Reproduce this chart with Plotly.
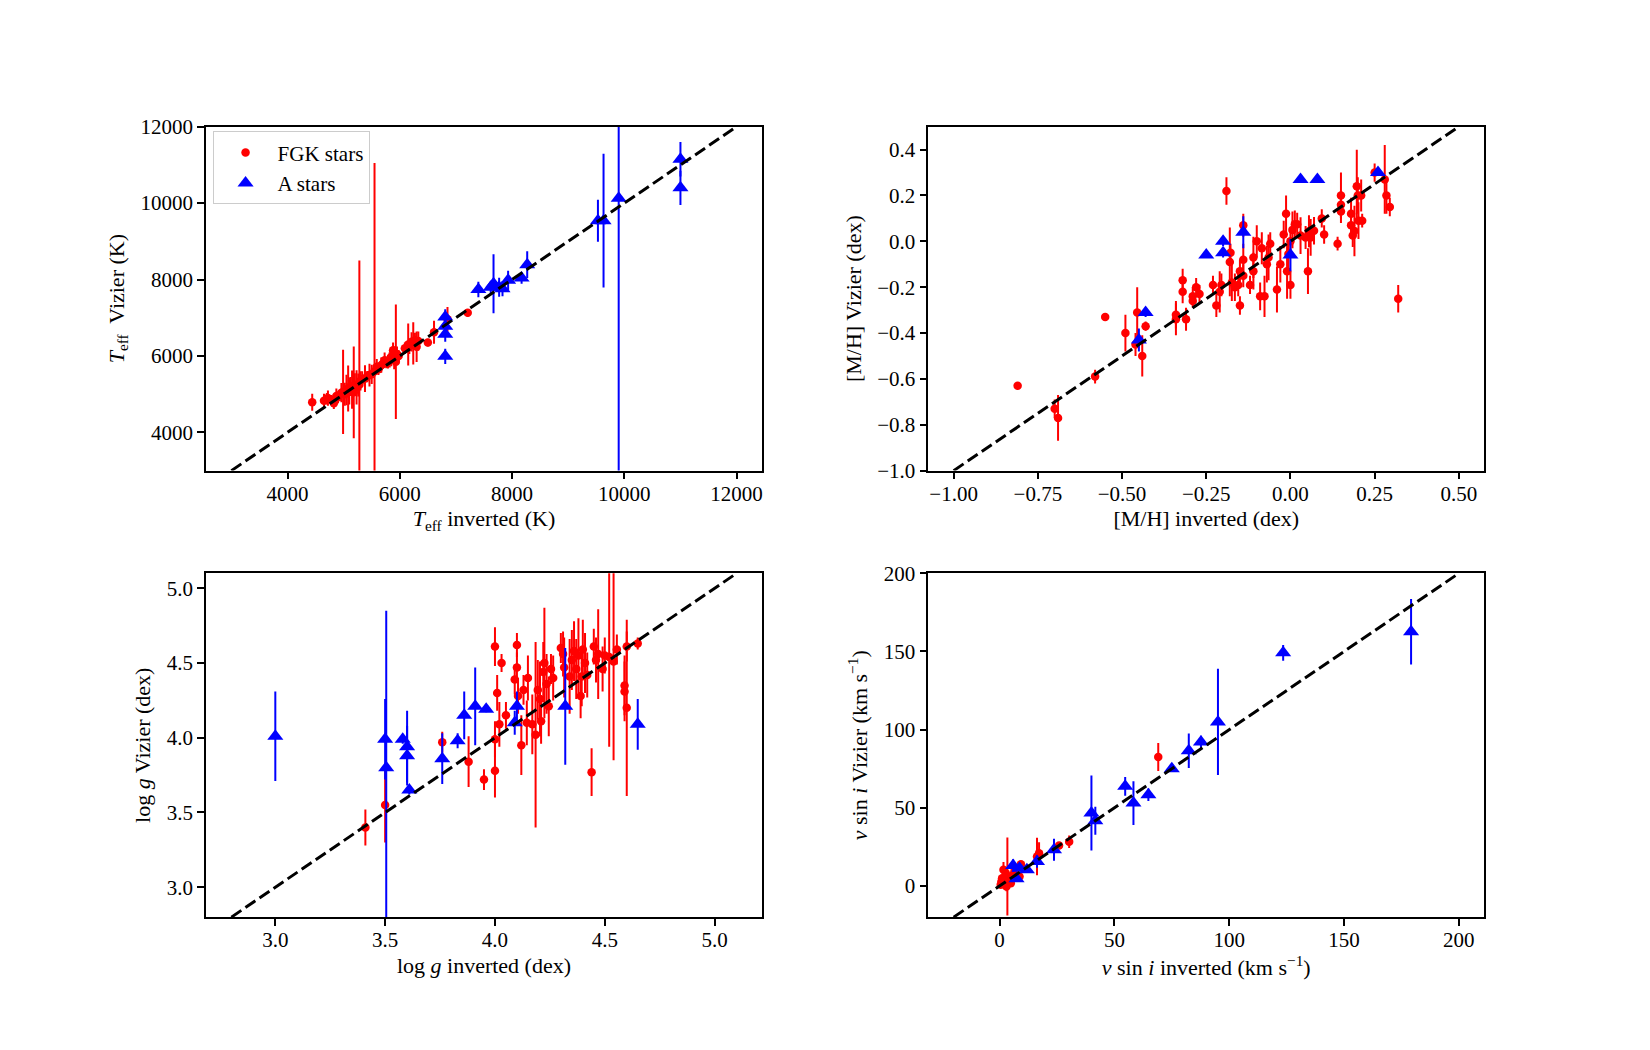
import plotly.graph_objects as go

# ---------------- Panel 1: Teff ----------------
teff_inv_fgk = [4440, 4650, 4700, 4720, 4780, 4825, 4870, 4900, 4960, 4990, 5020, 5050, 5080, 5100, 5120,
                5150, 5180, 5200, 5230, 5260, 5280, 5300, 5330, 5380, 5420, 5460, 5500, 5550, 5590, 5620,
                5670, 5700, 5730, 5760, 5790, 5820, 5850, 5880, 5900, 5930, 5950, 5980, 6090, 6150, 6170,
                6210, 6240, 6270, 6300, 6330, 6500, 6610, 6850, 7210]
teff_viz_fgk = [4790, 4830, 4880, 4900, 4850, 4760, 4950, 4920, 5040, 5060, 5000, 5110, 5150, 5080, 5200,
                5120, 5050, 5250, 5180, 5240, 5250, 5350, 5400, 5410, 5460, 5500, 5520, 5600, 5720, 5650,
                5760, 5800, 5890, 5830, 5850, 5900, 5980, 6150, 5950, 5850, 6050, 6000, 6200, 6300, 6250,
                6370, 6330, 6410, 6240, 6390, 6350, 6620, 6960, 7130]
teff_err_fgk = [220, 180, 150, 200, 130, 150, 200, 160, 250, 1100, 300, 400, 600, 350, 250,
                500, 1200, 300, 450, 300, 3250, 250, 200, 350, 150, 300, 250, 5450, 200, 150,
                200, 120, 200, 150, 180, 200, 250, 200, 300, 1500, 200, 150, 150, 550, 200,
                250, 550, 200, 400, 250, 100, 300, 320, 100]

teff_inv_a = [6810, 6810, 6810, 6810, 7400, 7620, 7670, 7770, 7830, 7930, 8170, 8270, 9530, 9630, 9900, 11000, 11000]
teff_viz_a = [7020, 6780, 6570, 5990, 7740, 7800, 7890, 7800, 7760, 7980, 8040, 8390, 9540, 9540, 10130, 11150, 10400]
teff_err_a = [200, 150, 200, 200, 200, 150, 770, 250, 200, 250, 150, 350, 550, 1750, 8000, 450, 450]

# ---------------- Panel 2: [M/H] ----------------
mh_inv_fgk = [-0.81, -0.70, -0.69, -0.58, -0.55, -0.49, -0.455, -0.46, -0.44, -0.43, -0.34, -0.34, -0.32, -0.32,
              -0.31, -0.29, -0.29, -0.28, -0.27, -0.23, -0.22, -0.21, -0.205, -0.19, -0.18, -0.178, -0.174,
              -0.165, -0.155, -0.15, -0.15, -0.14, -0.14, -0.14, -0.12, -0.11, -0.11, -0.10, -0.09, -0.085,
              -0.077, -0.07, -0.065, -0.06, -0.04, -0.03, -0.02, -0.013, -0.01, -0.006, 0.0, 0.0, 0.006,
              0.013, 0.02, 0.03, 0.045, 0.052, 0.055, 0.06, 0.07, 0.093, 0.10, 0.14, 0.15, 0.15, 0.15, 0.18,
              0.18, 0.185, 0.19, 0.197, 0.20, 0.21, 0.202, 0.213, 0.25, 0.28, 0.285, 0.295, 0.32]
mh_viz_fgk = [-0.63, -0.73, -0.77, -0.59, -0.33, -0.40, -0.31, -0.45, -0.50, -0.37, -0.32, -0.34, -0.17, -0.22,
              -0.34, -0.24, -0.26, -0.20, -0.23, -0.19, -0.28, -0.22, -0.19, 0.22, -0.09, -0.05, -0.18,
              -0.20, -0.19, -0.28, -0.13, 0.07, -0.08, -0.15, -0.19, -0.13, -0.07, 0.00, -0.24, -0.03,
              -0.24, -0.10, -0.07, -0.01, -0.21, -0.10, 0.03, 0.12, -0.13, -0.055, 0.0, -0.19, 0.05,
              0.075, 0.075, 0.025, 0.017, -0.13, 0.044, 0.017, 0.046, 0.10, 0.03, -0.01, 0.20, 0.16, 0.13, 0.12,
              0.07, 0.025, 0.045, 0.24, 0.20, 0.20, 0.09, 0.09, 0.30, 0.27, 0.20, 0.15, -0.25]
mh_err_fgk = [0.01, 0.04, 0.10, 0.03, 0.01, 0.08, 0.11, 0.05, 0.09, 0.02, 0.06, 0.07, 0.05, 0.05,
              0.05, 0.04, 0.03, 0.04, 0.04, 0.04, 0.05, 0.09, 0.05, 0.06, 0.15, 0.04, 0.08,
              0.06, 0.05, 0.04, 0.05, 0.05, 0.07, 0.05, 0.04, 0.08, 0.09, 0.07, 0.06, 0.07,
              0.09, 0.08, 0.10, 0.05, 0.10, 0.08, 0.06, 0.08, 0.12, 0.07, 0.05, 0.06, 0.08,
              0.06, 0.05, 0.08, 0.05, 0.10, 0.07, 0.08, 0.06, 0.04, 0.04, 0.03, 0.10, 0.06, 0.05, 0.07,
              0.05, 0.05, 0.11, 0.16, 0.08, 0.07, 0.08, 0.03, 0.04, 0.15, 0.08, 0.04, 0.06]

mh_inv_a = [-0.45, -0.43, -0.25, -0.20, -0.20, -0.14, 0.00, 0.03, 0.08, 0.26]
mh_viz_a = [-0.43, -0.31, -0.06, 0.00, -0.05, 0.04, -0.06, 0.27, 0.27, 0.30]
mh_err_a = [0.05, 0.02, 0.0, 0.02, 0.02, 0.07, 0.07, 0.0, 0.0, 0.01]

# ---------------- Panel 3: log g ----------------
logg_inv_fgk = [3.41, 3.50, 3.76, 3.88, 3.95, 4.00, 4.00, 4.00, 4.01, 4.02, 4.03, 4.05, 4.09, 4.10, 4.10,
                4.105, 4.12, 4.13, 4.145, 4.15, 4.17, 4.185, 4.195, 4.205, 4.21, 4.22, 4.225, 4.235, 4.245,
                4.255, 4.265, 4.30, 4.31, 4.315, 4.34, 4.35, 4.36, 4.37, 4.38, 4.39, 4.395, 4.40, 4.41, 4.42,
                4.44, 4.45, 4.46, 4.47, 4.49, 4.50, 4.52, 4.54, 4.555, 4.59, 4.59, 4.60, 4.60, 4.65]
logg_viz_fgk = [3.40, 3.55, 3.97, 3.84, 3.72, 4.61, 3.78, 3.99, 4.30, 4.09, 4.50, 4.15, 4.39, 4.62, 4.47,
                4.28, 3.95, 4.32, 4.10, 4.40, 4.09, 4.02, 4.32, 4.26, 4.11, 4.44, 4.50, 4.36, 4.21,
                4.46, 4.40, 4.60, 4.56, 4.47, 4.41, 4.52, 4.58, 4.46, 4.55, 4.28, 4.41, 4.59, 4.50, 4.42,
                3.77, 4.61, 4.52, 4.56, 4.46, 4.55, 4.54, 4.51, 4.59, 4.35, 4.31, 4.20, 4.61, 4.63]
logg_err_fgk = [0.12, 0.25, 0.07, 0.17, 0.07, 0.13, 0.18, 0.12, 0.12, 0.15, 0.06, 0.09, 0.10, 0.08, 0.10,
                0.12, 0.20, 0.10, 0.15, 0.15, 0.20, 0.62, 0.20, 0.25, 0.15, 0.20, 0.37, 0.20, 0.20,
                0.10, 0.15, 0.10, 0.15, 0.20, 0.25, 0.20, 0.20, 0.20, 0.25, 0.15, 0.20, 0.20, 0.20, 0.15,
                0.16, 0.12, 0.15, 0.30, 0.15, 0.12, 0.60, 0.66, 0.10, 0.20, 0.20, 0.59, 0.10, 0.04]

logg_inv_a = [3.00, 3.50, 3.505, 3.58, 3.60, 3.60, 3.61, 3.76, 3.83, 3.86, 3.91, 3.96, 4.09, 4.10, 4.32, 4.65]
logg_viz_a = [4.01, 3.99, 3.80, 3.99, 3.94, 3.88, 3.65, 3.86, 3.98, 4.15, 4.21, 4.19, 4.10, 4.21, 4.21, 4.09]
logg_err_a = [0.30, 0.27, 1.05, 0.03, 0.24, 0.20, 0.03, 0.17, 0.05, 0.16, 0.26, 0.02, 0.08, 0.10, 0.39, 0.17]

# ---------------- Panel 4: v sin i ----------------
vsini_inv_fgk = [69.1, 30.3, 25.9, 17.2, 16.3, 9.3, 3.4, 1.7, 0.8, 2.1, 3.0, 4.9, 4.2, 8.7, 5.9, 1.1, 2.7,
                 1.5, 2.5, 0.5, 3.5, 6.5]
vsini_viz_fgk = [82.5, 28.2, 25.9, 20.9, 18.8, 13.9, 6.0, 10.3, 2.8, 3.8, -0.4, 1.7, 4.9, 6.0, 7.1, 4.9, 8.1,
                 1.5, 5.5, 0.8, 2.5, 9.5]
vsini_err_fgk = [9, 4, 2, 7, 12, 2, 25, 5, 2, 3, 3, 2, 3, 3, 2, 2, 4, 2, 3, 1, 2, 3]

vsini_inv_a = [179.2, 123.5, 95.1, 87.7, 82.4, 75.0, 64.8, 58.3, 54.7, 40.0, 41.7, 23.7, 16.3, 11.9, 8.7, 5.9, 7.4]
vsini_viz_a = [162.6, 149.1, 104.9, 92.1, 86.5, 75.0, 58.3, 53.0, 63.7, 46.6, 41.7, 23.1, 15.6, 10.3, 11.3, 13.0, 4.5]
vsini_err_a = [21, 5, 34, 4, 11, 2, 4, 14, 6, 24, 9, 7, 4, 2, 2, 4, 2]

# one-to-one line limits per panel (the y-limits)
line_lims = [(3000, 12000), (-1.0, 0.5), (2.8, 5.1), (-20, 200)]
x_ranges = [(2550, 12450), (-1.075, 0.575), (2.685, 5.215), (-31, 211)]

x_titles = ["<i>T</i><sub>eff</sub> inverted (K)", "[M/H] inverted (dex)",
            "log <i>g</i> inverted (dex)", "<i>v</i> sin <i>i</i> inverted (km s<sup>−1</sup>)"]
y_titles = ["<i>T</i><sub>eff</sub>  Vizier (K)", "[M/H] Vizier (dex)",
            "log <i>g</i> Vizier (dex)", "<i>v</i> sin <i>i</i> Vizier (km s<sup>−1</sup>)"]
x_ticks = [[4000, 6000, 8000, 10000, 12000], [-1.0, -0.75, -0.5, -0.25, 0.0, 0.25, 0.5],
           [3.0, 3.5, 4.0, 4.5, 5.0], [0, 50, 100, 150, 200]]
y_ticks = [[4000, 6000, 8000, 10000, 12000], [-1.0, -0.8, -0.6, -0.4, -0.2, 0.0, 0.2, 0.4],
           [3.0, 3.5, 4.0, 4.5, 5.0], [0, 50, 100, 150, 200]]
x_fmt = ["d", ".2f", ".1f", "d"]
y_fmt = ["d", ".1f", ".1f", "d"]

panels = [
    (teff_inv_fgk, teff_viz_fgk, teff_err_fgk, teff_inv_a, teff_viz_a, teff_err_a),
    (mh_inv_fgk, mh_viz_fgk, mh_err_fgk, mh_inv_a, mh_viz_a, mh_err_a),
    (logg_inv_fgk, logg_viz_fgk, logg_err_fgk, logg_inv_a, logg_viz_a, logg_err_a),
    (vsini_inv_fgk, vsini_viz_fgk, vsini_err_fgk, vsini_inv_a, vsini_viz_a, vsini_err_a),
]

W, H = 1650, 1050
xdomains = [(0.125, 0.4620), (0.5630, 0.9), (0.125, 0.4620), (0.5630, 0.9)]
ydomains = [(0.5530, 0.8882), (0.5530, 0.8882), (0.1178, 0.4529), (0.1178, 0.4529)]

FONT = "Liberation Serif, DejaVu Serif, serif"
RED = "#ff0000"
BLUE = "#0000ff"

fig = go.Figure()
layout = dict(width=W, height=H, margin=dict(l=0, r=0, t=0, b=0),
              paper_bgcolor="white", plot_bgcolor="white",
              font=dict(family=FONT, size=21, color="black"))

for i, (xf, yf, ef, xa, ya, ea) in enumerate(panels):
    n = "" if i == 0 else str(i + 1)
    xref, yref = "x" + n, "y" + n
    fig.add_trace(go.Scatter(
        x=xf, y=yf, mode="markers", name="FGK stars", showlegend=(i == 0),
        xaxis=xref, yaxis=yref,
        marker=dict(symbol="circle", size=8.5, color=RED),
        error_y=dict(type="data", array=ef, visible=True, color=RED, thickness=2, width=0),
        cliponaxis=True))
    fig.add_trace(go.Scatter(
        x=xa, y=ya, mode="markers", name="A stars", showlegend=(i == 0),
        xaxis=xref, yaxis=yref,
        marker=dict(symbol="triangle-up", size=14, color=BLUE),
        error_y=dict(type="data", array=ea, visible=True, color=BLUE, thickness=2, width=0),
        cliponaxis=True))
    lo, hi = line_lims[i]
    fig.add_trace(go.Scatter(
        x=[lo, hi], y=[lo, hi], mode="lines", showlegend=False,
        xaxis=xref, yaxis=yref,
        line=dict(color="black", width=3, dash="12px,5px")))

    axis_common = dict(showline=True, mirror=True, linecolor="black", linewidth=1.7,
                       ticks="outside", ticklen=7, tickwidth=1.7, tickcolor="black",
                       showgrid=False, zeroline=False,
                       tickfont=dict(family=FONT, size=21, color="black"))
    layout["xaxis" + n] = dict(axis_common, domain=list(xdomains[i]), range=list(x_ranges[i]),
                               anchor=yref, tickmode="array", tickvals=x_ticks[i],
                               tickformat=x_fmt[i], ticklabelstandoff=-4,
                               title=dict(text=x_titles[i], font=dict(family=FONT, size=22), standoff=6))
    layout["yaxis" + n] = dict(axis_common, domain=list(ydomains[i]), range=list(line_lims[i]),
                               anchor=xref, tickmode="array", tickvals=y_ticks[i],
                               tickformat=y_fmt[i],
                               title=dict(text=y_titles[i], font=dict(family=FONT, size=22), standoff=10))

layout["legend"] = dict(x=0.1289, y=0.8836, xanchor="left", yanchor="top",
                        bgcolor="rgba(255,255,255,0.8)", bordercolor="#cccccc", borderwidth=1,
                        font=dict(family=FONT, size=21, color="black"),
                        itemwidth=54, itemsizing="trace")
fig.update_layout(**layout)

fig.write_html("out.html")
